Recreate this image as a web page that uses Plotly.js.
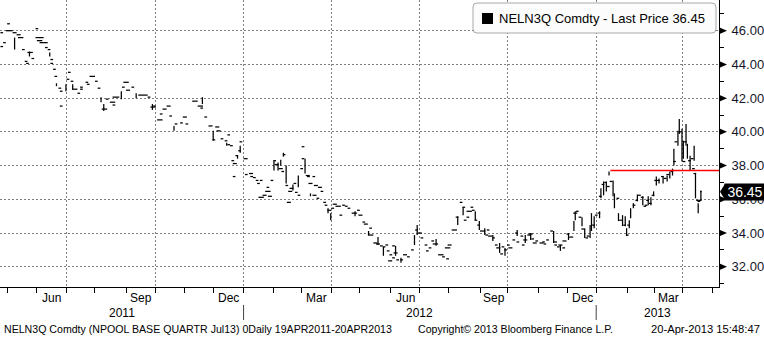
<!DOCTYPE html>
<html>
<head>
<meta charset="utf-8">
<script src="https://cdn.plot.ly/plotly-3.0.1.min.js"></script>
<style>
html,body{margin:0;padding:0;background:#fff;}
#chart{width:764px;height:338px;}
</style>
</head>
<body>
<div id="chart"></div>
<script>
// ---- DATA ----
// trading days are counted as weekdays from firstTradeDay (index 0)
const firstTradeDay = '2011-04-19';
const lastPrice = 36.45;
const seriesName = 'NELN3Q Comdty';
// flat runs: start day index, number of days, price
const runStart = [4,9,8,13,6,4,16,17,20,24,22,23,27,30,30,31,33,37,39,41,41,43,44,47,48,48,54,53,56,57,61,63,63,67,68,70,74,76,79,82,85,87,87,95,94,97,101,106,113,115,117,120,122,124,127,129,133,137,139,141,146,150,152,155,158,163,164,161,167,170,172,172,174,180,181,178,175,176,184,176,185,188,189,191,193,194,196,195,198,200,201,202,204,206,207,210,212,213,215,218,217,222,224,216,221,226,227,227,230,231,235,232,235,236,239,241,238,243,244,246,249,250,252,255,257,259,261,264,268,269,272,273,277,276,280,282,285,287,289,290,292,294,295,297,291,294,300,302,305,308,311,313,315,318,319,321,323,324,328,331,334,333,335,338,341,344,346,347,349,349,352,353,355,357,359,363,364,365,368,370,371,374,375,377,379,380,383,385,386,389,390,391,394,395,397,398,400,403,405,406,408,411,413,414,416,417,420,420,423,425,428,430,432,434,437,438,442,444,446,447,449,451,453,455,460,462,465,467,468,472,474,476,478,480,481,482,484,486,488,490,493,495,497,500,502,503,506,509,510,513,515,516,517,519,520,521,522];
const runLen   = [2,2,5,3,2,2,3,4,2,4,2,2,2,2,6,4,6,2,2,2,2,2,2,2,2,2,2,2,2,4,2,2,2,2,2,4,2,2,4,2,4,2,5,4,2,3,2,7,2,4,2,4,2,3,3,2,2,2,3,2,4,4,2,2,3,3,3,2,2,2,2,2,2,2,2,2,2,3,3,2,2,3,2,2,2,2,2,4,3,4,2,3,2,2,3,3,2,2,2,3,3,2,2,3,2,2,2,2,3,2,2,3,3,3,3,2,2,2,2,3,2,3,4,2,2,2,2,4,2,3,2,3,2,4,3,3,2,2,2,2,2,2,3,2,3,2,2,3,2,2,2,3,2,2,2,2,2,4,4,2,2,4,3,4,2,2,2,2,2,4,2,2,2,2,4,2,2,3,2,2,3,2,2,2,2,3,2,2,2,2,2,3,2,3,2,3,2,3,2,2,2,2,3,2,2,3,2,3,2,3,3,2,2,2,2,2,2,2,2,2,2,2,2,2,2,2,2,2,2,2,2,2,2,2,2,2,2,2,2,2,2,2,2,2,2,2,2,2,2,2,2,2,2,2,2,2,1,2];
const runPrice = [45.88,46.41,46.00,45.88,45.29,45.06,45.76,45.59,44.88,44.71,44.18,44.06,44.35,46.12,45.59,45.41,45.29,45.00,44.88,44.29,44.06,43.71,43.29,42.59,42.41,41.53,43.53,43.12,43.00,42.53,42.29,42.53,42.65,42.94,42.82,43.29,43.00,42.59,41.35,41.94,41.76,41.59,42.06,42.94,42.65,42.47,42.65,42.18,42.06,41.47,41.53,40.71,41.06,41.35,41.53,40.94,40.47,40.53,40.88,40.47,41.82,41.53,41.41,40.88,40.35,40.29,40.06,39.53,39.59,39.47,39.82,39.24,39.18,38.88,39.41,38.59,38.29,38.12,38.41,37.35,37.47,37.53,37.35,37.29,37.12,36.94,37.12,36.12,36.24,36.47,36.71,36.18,37.12,38.29,38.06,37.82,37.65,38.65,36.82,36.65,36.47,36.41,36.24,35.82,36.94,37.82,38.41,39.12,37.41,37.35,37.35,36.94,36.24,36.82,36.71,36.47,36.06,35.82,35.65,35.35,35.47,35.71,35.59,35.06,35.65,35.59,35.47,35.18,35.35,35.06,34.65,34.53,34.29,33.88,33.41,33.35,33.24,33.18,33.29,32.94,32.71,32.53,32.82,32.41,32.35,33.24,32.41,32.71,32.59,33.00,34.18,34.00,33.71,33.29,32.94,33.12,33.53,33.35,32.71,32.59,32.47,33.12,33.29,34.18,34.94,35.82,35.53,34.76,34.94,35.29,35.53,35.35,34.76,34.47,34.12,33.88,34.18,33.82,33.71,33.29,33.12,32.76,33.18,33.00,33.29,33.12,33.59,34.00,33.47,33.82,33.29,33.59,33.88,33.94,33.65,33.41,33.53,33.41,33.47,33.35,33.59,34.12,33.47,33.29,33.18,33.29,33.12,33.53,33.94,33.76,35.18,35.29,34.94,34.24,33.71,33.82,34.47,35.06,35.18,36.18,36.88,37.00,36.76,37.06,36.06,34.76,34.47,33.88,34.47,35.65,35.94,36.24,36.12,35.59,35.65,35.94,35.76,36.24,37.12,37.12,37.35,37.24,37.47,37.65,38.24,39.41,40.00,38.24,39.41,38.29,38.41,37.82,37.53,35.94,35.88,35.94,36.45];
// daily high-low bars: day index, low, high
const barDay  = [14,25,40,45,52,57,78,80,93,104,116,132,153,161,171,179,181,206,209,211,213,215,220,224,229,233,246,248,266,276,283,287,296,300,310,312,326,342,346,355,358,362,368,373,377,386,392,396,413,418,424,428,429,434,436,440,441,443,447,448,450,452,454,457,458,461,464,466,467,469,470,472,475,479,483,485,487,489,491,494,497,499,501,502,505,506,508,509,511,512,514,517,518,520,522];
const barLow  = [44.88,44.47,44.47,42.71,42.41,42.53,41.76,41.24,41.94,42.00,41.30,40.06,41.65,39.47,39.18,38.41,38.76,37.71,37.71,38.00,38.53,36.94,36.53,36.71,37.53,36.18,35.18,34.76,35.00,33.88,33.29,32.65,32.65,32.24,33.29,33.88,33.24,34.47,35.06,34.76,34.18,33.88,33.53,32.82,32.65,33.82,33.41,33.59,33.41,32.94,33.59,34.12,34.76,34.41,33.71,33.71,34.12,34.29,34.88,36.06,36.24,36.47,37.41,36.18,35.47,34.71,34.41,34.41,33.82,34.29,34.88,35.47,35.88,35.65,35.65,35.65,36.18,36.82,36.94,36.94,37.06,37.24,37.41,38.00,39.18,39.88,38.24,38.41,39.18,38.41,37.71,38.29,36.06,35.18,35.94];
const barHigh = [45.59,44.76,44.71,42.88,42.82,42.82,42.06,41.65,42.41,42.29,41.65,40.35,42.06,40.06,39.35,38.59,39.18,38.29,38.18,38.35,38.76,38.00,36.88,37.41,38.41,36.35,35.47,35.18,35.29,34.12,33.76,33.18,33.24,32.53,33.88,34.47,33.65,35.00,35.53,35.29,34.71,34.29,33.88,33.41,33.12,34.18,33.88,34.00,34.12,33.29,34.00,34.71,35.29,34.94,34.29,34.47,35.18,35.00,35.29,36.65,37.06,37.06,37.65,37.12,36.35,35.18,35.06,35.00,34.29,34.76,35.47,35.76,36.29,36.18,36.18,36.12,36.47,37.35,37.24,37.35,37.41,37.65,37.82,39.00,40.06,40.76,40.18,39.47,40.47,39.29,38.59,39.18,37.53,35.76,36.53];
// red reference line drawn on the chart
const refLineStartDay = 455;
const refLineLevel = 37.71;
// axis labels
const priceTicks = [32,34,36,38,40,42,44,46];
const priceMinorTicks = [31,33,35,37,39,41,43,45,47];
const monthLabels = [['2011-06','Jun'],['2011-09','Sep'],['2011-12','Dec'],['2012-03','Mar'],['2012-06','Jun'],['2012-09','Sep'],['2012-12','Dec'],['2013-03','Mar']];
const yearLabels = ['2011','2012','2013'];
const legendText = 'NELN3Q Comdty - Last Price 36.45';
const footLeft = 'NELN3Q Comdty (NPOOL BASE QUARTR Jul13) 0Daily 19APR2011-20APR2013';
const footMid = 'Copyright\u00A9 2013 Bloomberg Finance L.P.';
const footRight = '20-Apr-2013 15:48:47';

// ---- helpers: weekday calendar ----
const DAY = 86400000;
const t0 = Date.parse(firstTradeDay + 'T00:00:00Z');
const bizDays = [];
for (let t = t0; bizDays.length < 600; t += DAY) {
  const w = new Date(t).getUTCDay();
  if (w !== 0 && w !== 6) bizDays.push(t);
}
function fmt(t){ return new Date(t).toISOString().slice(0,19).replace('T',' '); }
function bizDate(idx){ const w = Math.floor(idx); return fmt(bizDays[w] + (idx - w) * DAY); }
function bizIndex(dateStr){ // first weekday on/after date
  const t = Date.parse(dateStr + 'T00:00:00Z');
  for (let i = 0; i < bizDays.length; i++) if (bizDays[i] >= t) return i;
  return bizDays.length - 1;
}
const xStartIdx = 3.7, xEndIdx = 535.9;
const xRange = [bizDate(xStartIdx), bizDate(xEndIdx)];

// month starts (first weekday) and quarter starts
const monthStarts = [];
for (let y = 2011; y <= 2013; y++) for (let m = 1; m <= 12; m++) {
  const s = y + '-' + String(m).padStart(2,'0') + '-01';
  if (s >= '2011-05-01' && s <= '2013-05-01') monthStarts.push(s);
}
const monthStartDates = monthStarts.map(s => bizDate(bizIndex(s)));
const quarterStartDates = monthStarts.filter(s => ['01','04','07','10'].includes(s.slice(5,7))).map(s => bizDate(bizIndex(s)));

// ---- traces ----
const lx = [], ly = [];
for (let k = 0; k < runStart.length; k++) {
  lx.push(bizDate(runStart[k]), bizDate(runStart[k] + runLen[k]), null);
  ly.push(runPrice[k], runPrice[k], null);
}
for (let k = 0; k < barDay.length; k++) {
  lx.push(bizDate(barDay[k] + 0.5), bizDate(barDay[k] + 0.5), null);
  ly.push(barLow[k], barHigh[k], null);
}
const priceTrace = {
  type: 'scatter', mode: 'lines', x: lx, y: ly, connectgaps: false,
  line: {color: '#000', width: 1.25}, hoverinfo: 'skip', showlegend: false, name: seriesName
};
const refTrace = {
  type: 'scatter', mode: 'lines',
  x: [bizDate(refLineStartDay + 0.5), xRange[1]], y: [refLineLevel, refLineLevel],
  line: {color: '#ff0000', width: 1.5}, hoverinfo: 'skip', showlegend: false
};

// ---- layout geometry ----
const W = 764, H = 338, ML = 0, MR = 45, MT = 0, MB = 51;
const PW = W - ML - MR, PH = H - MT - MB;
const px = v => v / PW;             // pixel -> paper x
const py = v => 1 - v / PH;         // pixel -> paper y
const FONT = 'Liberation Sans, Arial, sans-serif';

const annotations = [];
// month labels centered inside their month
monthLabels.forEach(([ym, txt]) => {
  const [y, m] = ym.split('-').map(Number);
  const next = m === 12 ? (y + 1) + '-01-01' : y + '-' + String(m + 1).padStart(2,'0') + '-01';
  const a = bizIndex(ym + '-01'), b = bizIndex(next);
  annotations.push({x: bizDate((a + b) / 2), xref: 'x', y: py(298), yref: 'paper', text: txt,
    showarrow: false, xanchor: 'center', yanchor: 'middle', font: {family: FONT, size: 12, color: '#000'}});
});
// year labels centered in visible span
const yb = [xStartIdx, bizIndex('2012-01-01'), bizIndex('2013-01-01'), xEndIdx];
yearLabels.forEach((txt, k) => {
  annotations.push({x: bizDate((yb[k] + yb[k + 1]) / 2), xref: 'x', y: py(312.5), yref: 'paper', text: txt,
    showarrow: false, xanchor: 'center', yanchor: 'middle', font: {family: FONT, size: 12, color: '#000'}});
});
// footer
annotations.push({x: px(2), xref: 'paper', y: py(329), yref: 'paper', text: footLeft, showarrow: false,
  xanchor: 'left', yanchor: 'middle', font: {family: FONT, size: 10.6, color: '#000'}});
annotations.push({x: px(416), xref: 'paper', y: py(329), yref: 'paper', text: footMid, showarrow: false,
  xanchor: 'left', yanchor: 'middle', font: {family: FONT, size: 10.6, color: '#000'}});
annotations.push({x: px(762), xref: 'paper', y: py(329), yref: 'paper', text: footRight, showarrow: false,
  xanchor: 'right', yanchor: 'middle', font: {family: FONT, size: 11.2, color: '#000'}});
// legend text
annotations.push({x: px(497), xref: 'paper', y: py(18.5), yref: 'paper', text: legendText, showarrow: false,
  xanchor: 'left', yanchor: 'middle', font: {family: FONT, size: 13, color: '#000'}});
// last price box
annotations.push({x: px(724), xref: 'paper', y: lastPrice, yref: 'y', text: lastPrice.toFixed(2), showarrow: false,
  xanchor: 'left', yanchor: 'middle', bgcolor: '#000', borderpad: 1, width: 38, height: 14,
  font: {family: FONT, size: 14, color: '#fff'}});

const shapes = [];
// rounded legend box
(function(){
  const x0 = px(473), x1 = px(716), y0 = py(3), y1 = py(33), rx = px(4), ry = 4 / PH;
  const p = `M${x0+rx},${y0} L${x1-rx},${y0} Q${x1},${y0} ${x1},${y0-ry} L${x1},${y1+ry} Q${x1},${y1} ${x1-rx},${y1} ` +
            `L${x0+rx},${y1} Q${x0},${y1} ${x0},${y1+ry} L${x0},${y0-ry} Q${x0},${y0} ${x0+rx},${y0} Z`;
  shapes.push({type: 'path', xref: 'paper', yref: 'paper', path: p, fillcolor: '#fcfcfc',
    line: {color: '#a8a8a8', width: 1}, layer: 'above'});
  shapes.push({type: 'rect', xref: 'paper', yref: 'paper', x0: px(482), x1: px(493), y0: py(24), y1: py(13),
    fillcolor: '#000', line: {width: 0}, layer: 'above'});
})();
// triangle tick markers on the price axis
priceTicks.forEach(v => {
  shapes.push({type: 'path', xref: 'paper', yref: 'y', xsizemode: 'pixel', ysizemode: 'pixel',
    xanchor: 1, yanchor: v, path: 'M0,3.5 L8,0 L0,-3.5 Z', fillcolor: '#000', line: {width: 0}, layer: 'above'});
});
// arrow tip of the last price box
shapes.push({type: 'path', xref: 'paper', yref: 'y', xsizemode: 'pixel', ysizemode: 'pixel',
  xanchor: 1, yanchor: lastPrice, path: 'M1,0 L6,8 L6,-8 Z', fillcolor: '#000', line: {width: 0}, layer: 'above'});
// year separators
['2012-01-01','2013-01-01'].forEach(d => {
  shapes.push({type: 'line', xref: 'x', yref: 'paper', x0: bizDate(bizIndex(d)), x1: bizDate(bizIndex(d)),
    y0: py(305), y1: py(320), line: {color: '#444', width: 1}});
});

const layout = {
  width: W, height: H,
  margin: {l: ML, r: MR, t: MT, b: MB, pad: 0},
  paper_bgcolor: '#fff', plot_bgcolor: '#fff',
  showlegend: false, hovermode: false,
  xaxis: {
    type: 'date', range: xRange, rangebreaks: [{bounds: ['sat', 'mon']}],
    tickmode: 'array', tickvals: quarterStartDates, showticklabels: false,
    ticks: 'outside', ticklen: 5, tickcolor: '#000', tickwidth: 1,
    showgrid: true, gridcolor: '#808080', griddash: '2px,2px', gridwidth: 1,
    minor: {tickmode: 'array', tickvals: monthStartDates, ticks: 'outside', ticklen: 5, tickcolor: '#000', tickwidth: 1, showgrid: false},
    showline: true, linecolor: '#000', linewidth: 1, zeroline: false, fixedrange: true
  },
  yaxis: {
    side: 'right', range: [30.8, 47.82],
    tickmode: 'array', tickvals: priceTicks, ticktext: priceTicks.map(v => v.toFixed(2)),
    ticks: 'outside', ticklen: 9, tickcolor: 'rgba(0,0,0,0)',
    tickfont: {family: FONT, size: 13, color: '#15152a'},
    showgrid: true, gridcolor: '#808080', griddash: '2px,2px', gridwidth: 1,
    minor: {tickmode: 'array', tickvals: priceMinorTicks, ticks: 'outside', ticklen: 4, tickcolor: '#000', tickwidth: 1, showgrid: false},
    showline: true, linecolor: '#000', linewidth: 1, zeroline: false, fixedrange: true
  },
  annotations: annotations,
  shapes: shapes
};

Plotly.newPlot('chart', [priceTrace, refTrace], layout, {staticPlot: true, displayModeBar: false});
</script>
</body>
</html>
